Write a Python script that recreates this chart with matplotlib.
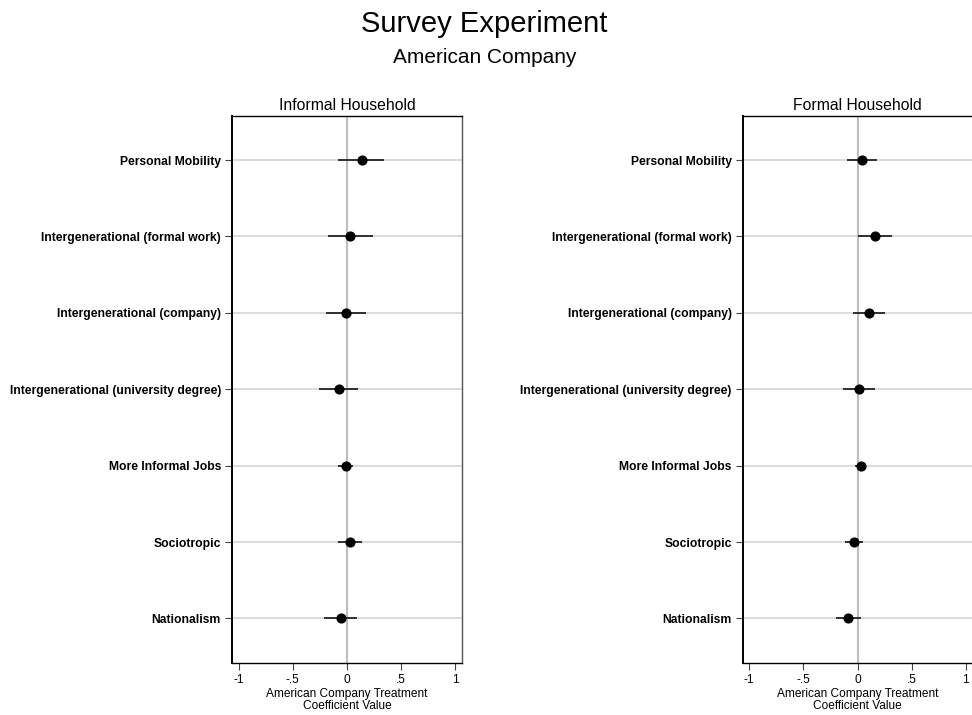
import matplotlib
matplotlib.use("Agg")
import matplotlib.pyplot as plt
import numpy as np

plt.rcParams['font.family'] = ['Liberation Sans', 'DejaVu Sans']

outcomes = ["Personal Mobility", "Intergenerational (formal work)",
            "Intergenerational (company)", "Intergenerational (university degree)",
            "More Informal Jobs", "Sociotropic", "Nationalism"]

# informal household
inf_coef = [0.138, 0.033, -0.006, -0.074, -0.010, 0.030, -0.055]
inf_lo = [-0.078, -0.170, -0.190, -0.256, -0.078, -0.078, -0.207]
inf_hi = [0.344, 0.240, 0.175, 0.107, 0.061, 0.138, 0.092]

# formal household
for_coef = [0.037, 0.161, 0.105, 0.016, 0.031, -0.037, -0.086]
for_lo = [-0.100, 0.006, -0.046, -0.130, -0.020, -0.116, -0.200]
for_hi = [0.176, 0.318, 0.256, 0.160, 0.078, 0.046, 0.031]

panels = [("Informal Household", inf_coef, inf_lo, inf_hi),
          ("Formal Household", for_coef, for_lo, for_hi)]
xticks = [-1, -0.5, 0, 0.5, 1]
xticklabels = ["-1", "-.5", "0", ".5", "1"]

fig = plt.figure(figsize=(9.72, 7.15), dpi=100)
fig.text(0.4985, 0.967, "Survey Experiment", ha='center', va='center', fontsize=21)
fig.text(0.4985, 0.920, "American Company", ha='center', va='center', fontsize=15)

lefts = [0.2387, 0.7641]
for left, (title, coef, lo, hi) in zip(lefts, panels):
    ax = fig.add_axes([left, 0.0731, 0.2366, 0.7651])
    n = len(outcomes)
    y = np.arange(n, 0, -1)
    coef = np.array(coef); lo = np.array(lo); hi = np.array(hi)
    for yy in y:
        ax.axhline(yy, color='#dcdcdc', lw=1.4, zorder=0)
    ax.axvline(0, color='#bdbdbd', lw=1.5, zorder=1)
    ax.hlines(y, lo, hi, color='#222222', lw=1.3, zorder=2)
    ax.plot(coef, y, 'o', color='black', ms=6.3, zorder=3)
    ax.set_xlim(-1.06, 1.063)
    ax.set_ylim(0.42, 7.58)
    ax.set_yticks(y)
    ax.set_yticklabels(outcomes, fontsize=8.7, fontweight='bold')
    ax.set_xticks(xticks)
    ax.set_xticklabels(xticklabels, fontsize=8.6)
    ax.tick_params(axis='both', direction='out', length=5, width=0.8, color='#444444', pad=3)
    ax.set_xlabel("American Company Treatment\nCoefficient Value", fontsize=8.6, labelpad=1.5, linespacing=1.0)
    ax.set_title(title, fontsize=11.3, pad=4)
    for side in ['top', 'right', 'bottom']:
        ax.spines[side].set_linewidth(1.0)
    ax.spines['left'].set_linewidth(1.4)
    ax.spines['right'].set_color('#555555')

fig.savefig("out.png", dpi=100)
